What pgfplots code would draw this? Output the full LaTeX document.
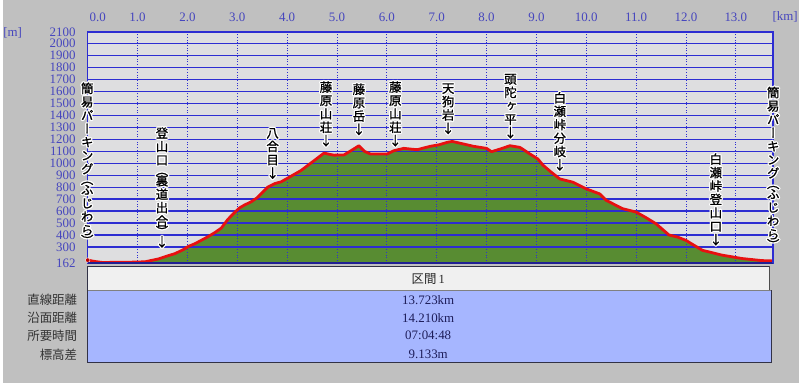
\documentclass[border=0pt]{standalone}
\usepackage{pgfplots}
\usepackage{pgfplotstable}
\pgfplotsset{compat=1.18}
\usepackage{fontspec}
\setmainfont{Liberation Serif}
\newfontfamily\jp{Noto Sans CJK JP}
\newfontfamily\vjp[RawFeature=+vert, FakeBold=1]{Noto Sans CJK JP}
\newfontfamily\arrowjp[FakeBold=1]{Noto Sans CJK JP}
\definecolor{bgout}{RGB}{192,192,192}
\definecolor{plotbg}{RGB}{222,222,224}
\definecolor{gridblue}{RGB}{45,45,210}
\definecolor{ticklab}{RGB}{70,70,190}
\definecolor{hill}{RGB}{88,140,50}
\definecolor{ridge}{RGB}{232,16,16}
\definecolor{headbg}{RGB}{240,240,240}
\definecolor{bodybg}{RGB}{166,182,255}
\definecolor{valtext}{RGB}{30,30,90}
\definecolor{frame}{RGB}{50,50,70}

\pgfplotstableread{
km elev
0.00 190
0.15 178
0.30 170
0.62 172
0.90 173
1.15 176
1.42 200
1.60 225
1.75 244
1.92 278
2.02 305
2.15 327
2.41 385
2.55 420
2.68 458
2.81 530
2.95 590
3.05 628
3.15 652
3.28 678
3.40 712
3.61 800
3.75 830
3.88 845
4.05 885
4.28 940
4.54 1022
4.74 1085
4.85 1075
4.94 1068
5.14 1070
5.28 1105
5.44 1147
5.55 1100
5.67 1078
6.01 1078
6.14 1105
6.34 1125
6.50 1118
6.61 1114
6.87 1142
7.05 1155
7.21 1175
7.31 1183
7.50 1165
7.74 1142
8.00 1125
8.10 1097
8.27 1119
8.47 1147
8.67 1133
8.87 1078
9.03 1036
9.13 985
9.30 925
9.47 869
9.73 842
10.00 786
10.27 744
10.40 690
10.73 620
11.00 592
11.20 545
11.40 494
11.66 400
11.83 383
12.00 355
12.33 272
12.73 231
13.13 203
13.52 186
13.75 183
}\prof

\pgfplotsset{
  frameaxis/.style={
    at={(85.5pt,120pt)}, anchor=south west,
    scale only axis, width=689.5pt, height=233pt,
    xmin=0, xmax=13.75, ymin=162, ymax=2100,
  }
}

\tikzset{vl/.style={align=center, inner sep=0pt, font={\vjp\fontsize{12.5}{13.5}\selectfont}}}
\newcommand{\vlabel}[3]{%
  \foreach \dx/\dy in {1.3/0,-1.3/0,0/1.3,0/-1.3,0.9/0.9,-0.9/0.9,0.9/-0.9,-0.9/-0.9}{%
    \node[vl,anchor=#1,text=white,xshift=\dx pt,yshift=\dy pt] at (#2) {#3};}%
  \node[vl,anchor=#1,text=black] at (#2) {#3};}

\begin{document}
\begin{tikzpicture}
\fill[bgout] (0pt,0pt) rectangle (801pt,385pt);
% base axis: background, hill fill, grid on top of the fill
\begin{axis}[
  frameaxis,
  axis on top,
  axis background/.style={fill=plotbg},
  xtick={0,1,2,3,4,5,6,7,8,9,10,11,12,13},
  xticklabels={{\rlap{\hspace{2pt}0.0}},1.0,2.0,3.0,4.0,5.0,6.0,7.0,8.0,9.0,10.0,11.0,12.0,13.0},
  xticklabel pos=upper,
  ytick={162,300,400,500,600,700,800,900,1000,1100,1200,1300,1400,1500,1600,1700,1800,1900,2000,2100},
  yticklabels={162,300,400,500,600,700,800,900,1000,1100,1200,1300,1400,1500,1600,1700,1800,1900,2000,2100},
  major tick length=0pt,
  xmajorgrids, ymajorgrids,
  y grid style={draw=gridblue, solid, line width=1.4pt},
  x grid style={draw=gridblue, line width=0.9pt, dash pattern=on 0.9pt off 1.8pt},
  axis line style={gridblue, line width=1pt},
  tick label style={font=\fontsize{13}{13}\selectfont, text=ticklab},
  yticklabel style={anchor=east, inner sep=0pt, xshift=-12pt},
  xticklabel style={anchor=south, inner sep=0pt, yshift=10pt},
]
\addplot[fill=hill, draw=none] table[x=km,y=elev] {\prof} \closedcycle;
\end{axis}
% overlay axis with the same frame: the ridge line above the grid
\begin{axis}[frameaxis, hide axis, clip=false]
\addplot[ridge, line width=2.8pt, line join=round] table[x=km,y=elev] {\prof};
\addplot[only marks, mark=*, mark size=2.3pt, draw=white, fill=red!75!black] coordinates {(0,190)};
\coordinate (L1) at (axis cs:-0.01,1677);
\coordinate (L2) at (axis cs:1.49,292);
\coordinate (L3) at (axis cs:3.71,867);
\coordinate (L4) at (axis cs:4.78,1139);
\coordinate (L5) at (axis cs:5.44,1233);
\coordinate (L6) at (axis cs:6.17,1139);
\coordinate (L7) at (axis cs:7.23,1242);
\coordinate (L8) at (axis cs:8.48,1206);
\coordinate (L9) at (axis cs:9.47,936);
\coordinate (L10) at (axis cs:12.6,311);
\coordinate (L11) at (axis cs:13.75,1642);
\end{axis}
\begin{scope}[x=1pt,y=1pt]
% heavier top / bottom / right frame of the plot area
\draw[gridblue, line width=2pt] (85.5,353) -- (775,353);
\draw[gridblue!70!black, line width=2pt] (85.5,120) -- (775,120);
\draw[gridblue, line width=1.5pt] (775,120) -- (775,353);
% vertical labels
\vlabel{north}{L1}{簡\\易\\パ\\ー\\キ\\ン\\グ\\[-3pt]（\\[-3pt]ふ\\じ\\わ\\ら\\[-3pt]）}
\vlabel{south}{L2}{登\\山\\口\\[-3pt]（\\[-3pt]裏\\道\\出\\合\\[-3pt]）\\[-3pt]{\arrowjp ↓}}
\vlabel{south}{L3}{八\\合\\目\\{\arrowjp ↓}}
\vlabel{south}{L4}{藤\\原\\山\\荘\\{\arrowjp ↓}}
\vlabel{south}{L5}{藤\\原\\岳\\{\arrowjp ↓}}
\vlabel{south}{L6}{藤\\原\\山\\荘\\{\arrowjp ↓}}
\vlabel{south}{L7}{天\\狗\\岩\\{\arrowjp ↓}}
\vlabel{south}{L8}{頭\\陀\\ヶ\\平\\{\arrowjp ↓}}
\vlabel{south}{L9}{白\\瀬\\峠\\分\\岐\\{\arrowjp ↓}}
\vlabel{south}{L10}{白\\瀬\\峠\\登\\山\\口\\{\arrowjp ↓}}
\vlabel{north}{L11}{簡\\易\\パ\\ー\\キ\\ン\\グ\\[-3pt]（\\[-3pt]ふ\\じ\\わ\\ら\\[-3pt]）}
% unit labels
\node[text=ticklab, font=\fontsize{13}{13}\selectfont] at (10,352) {[m]};
\node[text=ticklab, font=\fontsize{13}{13}\selectfont] at (787,368) {[km]};
% summary table
\fill[headbg] (85,93) rectangle (772,117);
\fill[bodybg] (85,20) rectangle (773,93);
\draw[frame, line width=1.2pt] (85,117) -- (772,117);
\draw[gray, line width=1.2pt] (85,93) -- (773,93);
\draw[gray!60!black, line width=1.5pt] (771.5,93) -- (771.5,117);
\draw[frame, line width=1pt] (85,117) -- (85,20) -- (773,20) -- (773,93);
\node[font=\fontsize{12.5}{12.5}\selectfont, text=black!85] at (428,104) {{\jp 区間}\,1};
\node[font=\fontsize{13}{13}\selectfont, text=valtext] at (428,83) {13.723km};
\node[font=\fontsize{13}{13}\selectfont, text=valtext] at (428,65.5) {14.210km};
\node[font=\fontsize{13}{13}\selectfont, text=valtext] at (428,47.5) {07:04:48};
\node[font=\fontsize{13}{13}\selectfont, text=valtext] at (428,28.5) {9.133m};
\node[anchor=east, inner sep=0pt, font={\jp\fontsize{12.5}{12.5}\selectfont}, text=black!80] at (75,83) {直線距離};
\node[anchor=east, inner sep=0pt, font={\jp\fontsize{12.5}{12.5}\selectfont}, text=black!80] at (75,65.5) {沿面距離};
\node[anchor=east, inner sep=0pt, font={\jp\fontsize{12.5}{12.5}\selectfont}, text=black!80] at (75,47.5) {所要時間};
\node[anchor=east, inner sep=0pt, font={\jp\fontsize{12.5}{12.5}\selectfont}, text=black!80] at (75,28.5) {標高差};
\end{scope}
\end{tikzpicture}
\end{document}
